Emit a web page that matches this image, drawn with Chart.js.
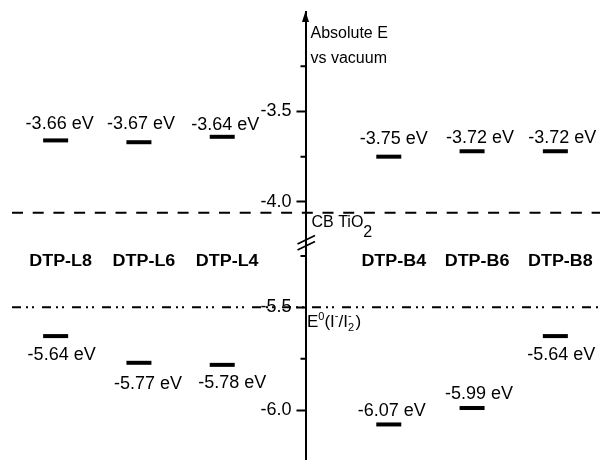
<!DOCTYPE html>
<html>
<head>
<meta charset="utf-8">
<script src="https://cdn.jsdelivr.net/npm/chart.js@4.4.1/dist/chart.umd.min.js"></script>
<style>
  html, body { margin: 0; padding: 0; background: #fff; }
  canvas { display: block; }
</style>
</head>
<body>
<canvas id="levels" width="600" height="460"></canvas>
<script>
// x slots, '' is the slot where the energy axis stands
const slots = ['DTP-L8', 'DTP-L6', 'DTP-L4', '', 'DTP-B4', 'DTP-B6', 'DTP-B8'];
const axisSlot = '';
const compounds = ['DTP-L8', 'DTP-L6', 'DTP-L4', 'DTP-B4', 'DTP-B6', 'DTP-B8'];

// energy levels in eV
const lumo = [-3.66, -3.67, -3.64, -3.75, -3.72, -3.72];
const homo = [-5.64, -5.77, -5.78, -6.07, -5.99, -5.64];

// reference levels
const cbTiO2 = -4.06;
const redoxI = -5.5;

// axis ticks, upper and lower part of the broken axis
const topTicks = [-3.5, -4.0];
const topMinor = [-3.25, -3.75];
const bottomTicks = [-5.5, -6.0];
const bottomMinor = [-5.25, -5.75];

// where each value label sits from its level bar [dx, dy] (px)
const lumoLabelShift = [[4, -16], [2, -18], [3, -12], [5, -18], [8, -13], [7, -13]];
const homoLabelShift = [[6, 19], [9, 21], [10, 18], [3, -13], [7, -14], [6, 19]];

const family = 'Liberation Sans, Arial, Helvetica, sans-serif';

const yScale = (min, max, ticks, weight) => ({
    type: 'linear',
    position: 'left',
    stack: 'energy',
    stackWeight: weight,
    min: min,
    max: max,
    afterBuildTicks: s => { s.ticks = ticks.map(v => ({ value: v })); },
    afterFit: s => { s.width = 0; s.paddingTop = 0; s.paddingBottom = 0; },
    border: { display: true, color: '#000', width: 2 },
    grid: { drawOnChartArea: false, tickLength: 9, tickWidth: 2, tickColor: '#000' },
    ticks: { color: '#000', padding: 5, font: { family: family, size: 18 }, callback: v => v.toFixed(1) }
});

const axisX = chart => chart.scales.x.getPixelForValue(slots.indexOf(axisSlot));

const drawRich = (ctx, x, y, parts) => {
    let cx = x;
    parts.forEach(p => {
        ctx.font = p.size + 'px ' + family;
        ctx.fillText(p.t, cx, y + (p.dy || 0));
        cx += p.w !== undefined ? p.w : ctx.measureText(p.t).width;
    });
};

const extras = {
    id: 'extras',
    afterLayout(chart) {
        // move the energy axis into the middle of the plot
        const ax = axisX(chart);
        ['yTop', 'yBot'].forEach(id => {
            chart.scales[id].left = ax - 80;
            chart.scales[id].right = ax;
        });
    },
    beforeDatasetsDraw(chart) {
        const { ctx, chartArea } = chart;
        const yc = chart.scales.yTop.getPixelForValue(cbTiO2);
        const yr = chart.scales.yBot.getPixelForValue(redoxI);
        ctx.save();
        ctx.strokeStyle = '#000';
        ctx.lineWidth = 2;
        ctx.setLineDash([11, 9.7]);
        ctx.beginPath();
        ctx.moveTo(chartArea.left - 2, yc);
        ctx.lineTo(chart.width, yc);
        ctx.stroke();
        ctx.setLineDash([9, 5, 2, 4, 2, 8]);
        ctx.beginPath();
        ctx.moveTo(chartArea.left - 2, yr);
        ctx.lineTo(chart.width, yr);
        ctx.stroke();
        ctx.restore();
    },
    afterDraw(chart) {
        const { ctx, chartArea } = chart;
        const ax = axisX(chart);
        const top = chart.scales.yTop;
        const bot = chart.scales.yBot;
        const x = chart.scales.x;
        ctx.save();
        ctx.strokeStyle = '#000';
        ctx.fillStyle = '#000';
        ctx.lineWidth = 2;

        // minor ticks
        ctx.beginPath();
        topMinor.forEach(v => { const y = top.getPixelForValue(v); ctx.moveTo(ax - 5, y); ctx.lineTo(ax, y); });
        bottomMinor.forEach(v => { const y = bot.getPixelForValue(v); ctx.moveTo(ax - 5, y); ctx.lineTo(ax, y); });
        ctx.stroke();

        // arrow head
        ctx.beginPath();
        ctx.moveTo(ax, chartArea.top - 1);
        ctx.lineTo(ax - 3.5, chartArea.top + 10);
        ctx.lineTo(ax + 3.5, chartArea.top + 10);
        ctx.closePath();
        ctx.fill();

        // axis break
        const yb = bot.top;
        ctx.lineWidth = 1.8;
        ctx.beginPath();
        ctx.moveTo(ax - 8, yb + 1); ctx.lineTo(ax + 9.5, yb - 7.5);
        ctx.moveTo(ax - 8, yb + 7); ctx.lineTo(ax + 9.5, yb - 1.5);
        ctx.stroke();

        // axis caption and reference names
        ctx.textAlign = 'left';
        ctx.textBaseline = 'alphabetic';
        ctx.font = '16px ' + family;
        ctx.fillText('Absolute E', ax + 5, 38);
        ctx.fillText('vs vacuum', ax + 5, 63);
        const yc = top.getPixelForValue(cbTiO2);
        drawRich(ctx, ax + 6, yc + 14.5, [
            { t: 'CB TiO', size: 16 },
            { t: '2', size: 16, dy: 10 }
        ]);
        const yr = bot.getPixelForValue(redoxI);
        drawRich(ctx, ax + 1.5, yr + 20, [
            { t: 'E', size: 17 },
            { t: '0', size: 11, dy: -7 },
            { t: '(I', size: 17 },
            { t: '-', size: 11, dy: -8 },
            { t: '/I', size: 17 },
            { t: '2', size: 11, dy: 4, w: 0 },
            { t: '-', size: 11, dy: -8, w: 7.5 },
            { t: ')', size: 17 }
        ]);

        // compound names, the type is a little wide in the original
        ctx.textAlign = 'center';
        ctx.textBaseline = 'middle';
        ctx.font = 'bold 16px ' + family;
        compounds.forEach(c => {
            ctx.save();
            ctx.translate(x.getPixelForValue(slots.indexOf(c)) + 5, 262);
            ctx.scale(1.12, 1);
            ctx.fillText(c, 0, 0);
            ctx.restore();
        });

        // level values
        ctx.font = '18px ' + family;
        compounds.forEach((c, i) => {
            const px = x.getPixelForValue(slots.indexOf(c));
            ctx.fillText(lumo[i].toFixed(2) + ' eV', px + lumoLabelShift[i][0], top.getPixelForValue(lumo[i]) + lumoLabelShift[i][1]);
            ctx.fillText(homo[i].toFixed(2) + ' eV', px + homoLabelShift[i][0], bot.getPixelForValue(homo[i]) + homoLabelShift[i][1]);
        });
        ctx.restore();
    }
};

const levelSet = (name, values, axisId) => ({
    label: name,
    data: compounds.map((c, i) => ({ x: c, y: values[i] })),
    yAxisID: axisId,
    showLine: false,
    pointStyle: 'line',
    pointRadius: 12.5,
    pointHoverRadius: 12.5,
    pointBorderWidth: 4,
    pointHoverBorderWidth: 4,
    pointBorderColor: '#000',
    pointBackgroundColor: '#000',
    borderColor: '#000',
    clip: false
});

new Chart(document.getElementById('levels'), {
    type: 'line',
    data: {
        labels: slots,
        datasets: [
            levelSet('LUMO', lumo, 'yTop'),
            levelSet('HOMO', homo, 'yBot')
        ]
    },
    options: {
        responsive: false,
        animation: false,
        events: [],
        layout: { autoPadding: false, padding: { left: 14, right: 3, top: 12, bottom: 0 } },
        plugins: { legend: { display: false }, tooltip: { enabled: false } },
        scales: {
            x: { type: 'category', labels: slots, offset: true, display: false },
            // the stack is filled from the last scale upwards
            yBot: yScale(-6.243, -5.187, bottomTicks, 217),
            yTop: yScale(-4.228, -2.949, topTicks, 231)
        }
    },
    plugins: [extras]
});
</script>
</body>
</html>
